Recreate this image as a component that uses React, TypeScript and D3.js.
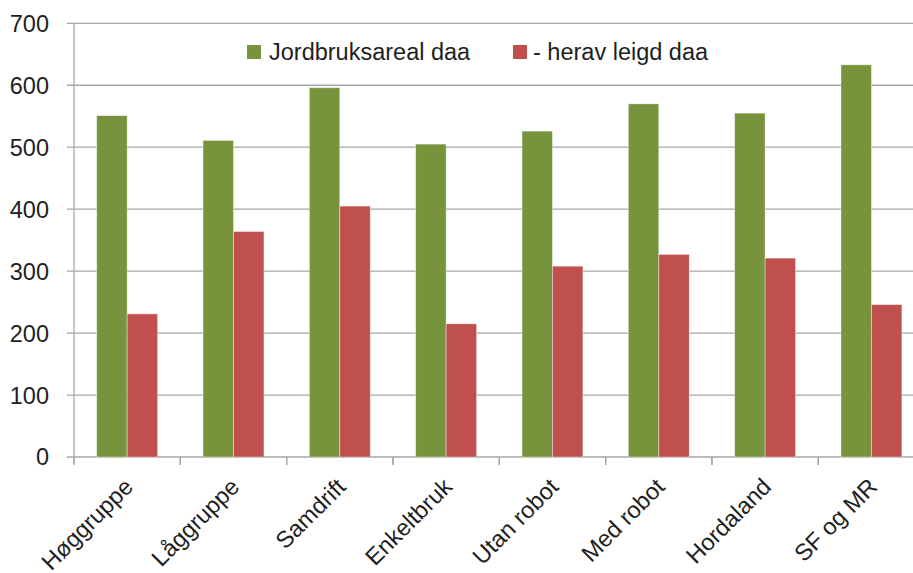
import React from "react";
import * as d3 from "d3";

const categories = ["Høggruppe", "Låggruppe", "Samdrift", "Enkeltbruk", "Utan robot", "Med robot", "Hordaland", "SF og MR"];
const jordbruksareal = [551, 511, 596, 505, 526, 570, 555, 633];
const leigd = [231, 364, 405, 215, 308, 327, 321, 246];
const seriesNames = ["Jordbruksareal daa", "- herav leigd daa"];
const seriesColors = ["#77933C", "#C0504D"];
const yTicks = [0, 100, 200, 300, 400, 500, 600, 700];

const W = 913;
const H = 573;
const left = 74;
const right = 924.6;
const top = 23.3;
const bottom = 457;
const font = "'Liberation Sans', Arial, sans-serif";
const gridColor = "#a6a6a6";
const textColor = "#1e1e1e";

export default function App() {
  const x = d3.scaleBand<string>().domain(categories).range([left, right]).padding(0);
  const bw = x.bandwidth();
  const inner = d3.scaleBand<number>().domain([0, 1]).range([bw * 0.2135, bw * 0.7865]).padding(0);
  const y = d3.scaleLinear().domain([0, 700]).range([bottom, top]);
  const series = [jordbruksareal, leigd];

  return (
    <svg width={W} height={H} style={{ position: "absolute", left: 0, top: 0, background: "#fff" }} fontFamily={font}>
      <rect x={0} y={0} width={W} height={H} fill="#fff" />
      {yTicks.map((t) => (
        <g key={t}>
          <line x1={left - 7} x2={W} y1={y(t)} y2={y(t)} stroke={gridColor} strokeWidth={1.3} />
          <text x={49} y={y(t)} dy="0.36em" textAnchor="end" fontSize={23.5} fill={textColor}>
            {t}
          </text>
        </g>
      ))}
      <line x1={left} x2={left} y1={top} y2={bottom + 7} stroke={gridColor} strokeWidth={1.3} />
      {categories.map((c) => (
        <line key={"t" + c} x1={x(c)!} x2={x(c)!} y1={bottom} y2={bottom + 8} stroke={gridColor} strokeWidth={1.3} />
      ))}
      {categories.map((c) => (
        <line key={"te" + c} x1={x(c)! + bw} x2={x(c)! + bw} y1={bottom} y2={bottom + 8} stroke={gridColor} strokeWidth={1.3} />
      ))}
      {series.map((vals, s) =>
        categories.map((c, i) => (
          <rect
            key={s + "-" + c}
            x={x(c)! + inner(s)!}
            y={y(vals[i])}
            width={inner.bandwidth()}
            height={bottom - y(vals[i])}
            fill={seriesColors[s]}
            stroke="#fff"
            strokeOpacity={0.5}
            strokeWidth={0.8}
          />
        ))
      )}
      {categories.map((c) => {
        const cx = x(c)! + bw / 2;
        return (
          <text
            key={"l" + c}
            transform={`translate(${cx - 1},${bottom + 23}) rotate(-45)`}
            textAnchor="end"
            dy="0.5em"
            fontSize={23.5}
            fill={textColor}
          >
            {c}
          </text>
        );
      })}
      <g>
        <rect x={247} y={45} width={14} height={14} fill={seriesColors[0]} />
        <text x={269} y={52} dy="0.36em" fontSize={23.5} fill={textColor}>
          {seriesNames[0]}
        </text>
        <rect x={513} y={45} width={14} height={14} fill={seriesColors[1]} />
        <text x={533} y={52} dy="0.36em" fontSize={23.5} fill={textColor}>
          {seriesNames[1]}
        </text>
      </g>
    </svg>
  );
}
